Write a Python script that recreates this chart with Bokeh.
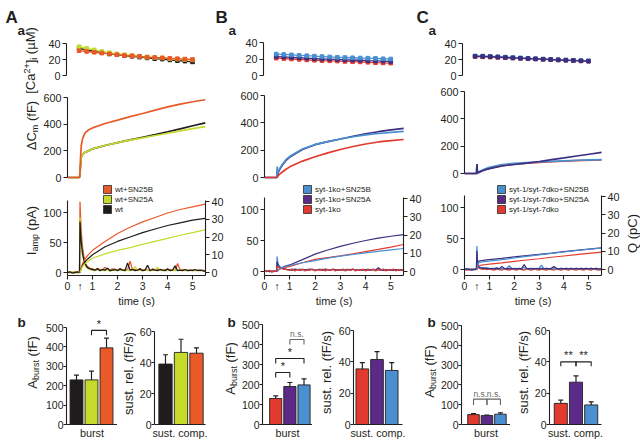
from math import pi
from bokeh.plotting import figure
from bokeh.layouts import row, column
from bokeh.models import (Range1d, LinearAxis, FixedTicker, Label, Legend, LegendItem)
from bokeh.embed import file_html
from bokeh.resources import INLINE

FONT = "Liberation Sans"
INK = "#231f20"

C_WT = "#1e1c1c"
C_A25A = "#c6da2c"
C_A25B = "#e85a28"
C_KO = "#e23a2e"
C_25A = "#5b2b87"
C_25A_LINE = "#3a2f80"
C_25B = "#4a8fcf"
C_NS = "#666666"

# ------------------------------------------------------------------ data
STIM_T = 0.5
TIME_TICKS = [0, 1, 2, 3, 4, 5]

T_CA = [0.5, 0.8, 1.1, 1.4, 1.7, 2.0, 2.3, 2.6, 2.9, 3.2, 3.5, 3.8, 4.1, 4.4, 4.7, 5.0]
CA_A_25B = [31, 30, 29, 28, 27, 26, 25, 24.5, 24, 23, 22.5, 22, 21.5, 21, 20.5, 20]
CA_A_25A = [36, 34, 32, 30, 28.5, 27, 26, 25, 24, 23, 22.5, 22, 21, 20.5, 20, 19.5]
CA_A_WT = [34, 32, 30, 28.5, 27, 26, 25, 24, 23, 22, 21, 20.5, 19.5, 18.5, 18, 17]
CA_B_25B = [26, 25.5, 25, 24.5, 24, 23.5, 23, 22.5, 22, 21.8, 21.5, 21.2, 21, 20.7, 20.3, 20]
CA_B_25A = [23, 22.5, 22, 21.5, 21, 20.5, 20, 19.8, 19.5, 19, 18.8, 18.5, 18, 17.8, 17.5, 17]
CA_B_KO = [21, 20.5, 20, 19.5, 19, 18.5, 18, 17.8, 17.5, 17, 16.8, 16.5, 16, 15.5, 15.2, 15]
CA_C_25B = [24.5, 24.3, 24, 23.5, 23, 22.5, 22, 21.5, 21, 20.5, 20, 19.7, 19.3, 19, 18.6, 18.3]
CA_C_25A = [24, 23.8, 23.5, 23, 22.5, 22, 21.6, 21.2, 20.8, 20.4, 20, 19.6, 19.2, 18.8, 18.4, 18]
CA_C_KO = [23.5, 23.3, 23, 22.6, 22.2, 21.8, 21.4, 21, 20.6, 20.2, 19.8, 19.4, 19, 18.6, 18.2, 17.8]
CA_ERR = [2, 2, 2, 1.8, 1.8, 1.6, 1.6, 1.5, 1.5, 1.5, 1.5, 1.5, 1.5, 1.5, 1.5, 1.5]

T_CM = [0, 0.48, 0.5, 0.52, 0.55, 0.6, 0.7, 0.85, 1.0, 1.5, 2.0, 2.5, 3.0, 3.5, 4.0, 4.5, 5.0, 5.5]
CM_A_25B = [0, 0, 40, 150, 240, 290, 335, 358, 372, 405, 430, 457, 480, 505, 530, 550, 568, 583]
CM_A_25A = [0, 0, 30, 90, 150, 172, 190, 200, 215, 240, 262, 280, 297, 315, 332, 350, 366, 382]
CM_A_WT = [0, 0, 30, 90, 150, 172, 190, 200, 215, 240, 262, 282, 302, 322, 343, 365, 388, 410]
CM_B_25A = [0, 0, 10, 25, 40, 60, 90, 125, 150, 205, 240, 262, 282, 302, 320, 335, 348, 360]
CM_B_25B = [0, 0, 80, 25, 45, 65, 95, 130, 155, 208, 242, 263, 282, 298, 312, 322, 330, 337]
CM_B_KO = [0, 0, 0, 8, 15, 25, 40, 60, 78, 120, 152, 180, 205, 227, 245, 260, 270, 278]
CM_C_25A = [0, 0, 70, 3, 6, 10, 18, 28, 36, 55, 66, 76, 88, 101, 114, 128, 141, 154]
CM_C_25B = [0, 0, 70, 4, 9, 14, 24, 36, 45, 66, 74, 79, 84, 89, 93, 97, 100, 102]
CM_C_KO = [0, 0, 0, 3, 7, 11, 20, 30, 38, 58, 68, 75, 81, 86, 90, 94, 97, 99]

T_I = [0.0, 0.1, 0.2, 0.3, 0.4, 0.48,
       0.5, 0.52, 0.55, 0.6, 0.65, 0.7, 0.75, 0.8, 0.9,
       1.0, 1.1, 1.2, 1.3, 1.4, 1.5, 1.6, 1.7, 1.8, 1.9,
       2.0, 2.1, 2.2, 2.3, 2.4, 2.5, 2.6, 2.7, 2.8, 2.9,
       3.0, 3.1, 3.2, 3.3, 3.4, 3.5, 3.6, 3.7, 3.8, 3.9,
       4.0, 4.1, 4.2, 4.3, 4.4, 4.5, 4.6, 4.7, 4.8, 4.9,
       5.0, 5.1, 5.2, 5.3, 5.4, 5.5]
IA_A_WT = [0, 1, -1, 0, 1, 0,
           85, 70, 50, 32, 22, 15, 11, 8, 6,
           5, 4, 6, 3, 5, 4, 7, 3, 4, 5,
           3, 6, 4, 3, 16, 4, 5, 3, 4, 6,
           3, 4, 12, 3, 5, 4, 3, 5, 4, 3,
           6, 3, 4, 11, 3, 4, 3, 5, 3, 4,
           3, 5, 3, 4, 3, 2]
IA_A_25A = [0, 0, 1, 0, -1, 0,
            92, 72, 50, 30, 20, 13, 9, 7, 5,
            4, 3, 5, 3, 4, 3, 5, 2, 4, 3,
            4, 3, 5, 3, 4, 3, 4, 10, 3, 4,
            3, 4, 3, 5, 3, 4, 9, 3, 4, 3,
            3, 4, 3, 4, 3, 5, 3, 4, 3, 3,
            4, 3, 4, 3, 3, 2]
IA_A_25B = [1, 0, 0, 1, 0, 0,
            118, 95, 68, 42, 28, 19, 13, 10, 7,
            6, 4, 7, 5, 4, 9, 5, 4, 6, 5,
            4, 6, 4, 5, 4, 19, 4, 5, 4, 6,
            4, 5, 4, 3, 6, 4, 5, 4, 3, 5,
            4, 5, 4, 3, 15, 4, 5, 3, 4, 3,
            5, 3, 4, 3, 4, 3]
IA_B_KO = [1, 0, 2, -1, 1, 0,
           9, 8, 7, 6, 5, 5, 4, 4, 3,
           2, 4, 1, 3, 2, 4, 1, 3, 2, 4,
           1, 3, 2, 4, 1, 3, 2, 4, 1, 3,
           2, 4, 1, 3, 2, 4, 1, 3, 2, 4,
           1, 3, 2, 4, 1, 3, 2, 4, 1, 3,
           2, 4, 1, 3, 2, 3]
IA_B_25A = [0, 1, 0, 0, 1, 0,
            16, 12, 9, 7, 6, 5, 4, 4, 3,
            3, 2, 4, 3, 2, 3, 3, 2, 4, 3,
            2, 3, 3, 2, 4, 3, 2, 3, 3, 2,
            3, 3, 2, 3, 3, 4, 2, 3, 2, 3,
            3, 2, 3, 3, 2, 6, 3, 2, 3, 2,
            3, 2, 3, 2, 3, 2]
IA_B_25B = [0, 1, 0, 1, 0, 1,
            24, 16, 11, 8, 6, 5, 4, 4, 3,
            3, 4, 2, 3, 4, 3, 2, 4, 3, 3,
            2, 3, 4, 2, 3, 3, 2, 4, 3, 2,
            3, 2, 3, 4, 2, 3, 3, 2, 3, 2,
            3, 4, 2, 3, 2, 3, 2, 3, 2, 3,
            2, 3, 2, 3, 2, 2]
IA_C_KO = [0, -1, 0, 1, 0, 0,
           12, 6, 3, 2, 1, 1, 0, 1, 0,
           1, 0, -1, 1, 0, -1, 1, 0, -1, 1,
           0, -1, 1, 0, -1, 1, 0, -1, 1, 0,
           -1, 1, 0, -1, 1, 0, -1, 1, 0, -1,
           1, 0, -1, 1, 0, -1, 1, 0, -1, 1,
           0, -1, 1, 0, -1, 0]
IA_C_25A = [0, 1, 0, -1, 0, 1,
            30, 10, 5, 3, 3, 2, 2, 2, 2,
            1, 2, 1, 2, 1, 5, 2, 1, 2, 1,
            2, 1, 2, 1, 8, 2, 1, 2, 1, 2,
            1, 2, 1, 2, 1, 2, 5, 2, 1, 2,
            1, 2, 1, 2, 1, 2, 1, 2, 1, 2,
            1, 2, 1, 2, 1, 1]
IA_C_25B = [0, 1, 0, 0, 1, 0,
            38, 12, 6, 4, 3, 3, 2, 2, 2,
            2, 1, 2, 3, 1, 2, 1, 2, 6, 2,
            1, 2, 1, 2, 3, 1, 2, 1, 2, 1,
            2, 7, 1, 2, 1, 2, 1, 2, 1, 2,
            1, 2, 1, 2, 1, 2, 1, 2, 1, 2,
            1, 2, 1, 2, 1, 1]

T_Q = [0.5, 0.55, 0.6, 0.7, 0.8, 1.0, 1.5, 2.0, 2.5, 3.0, 3.5, 4.0, 4.5, 5.0, 5.5]
Q_A_25B = [0, 3, 5, 7.5, 9.5, 12.5, 17.5, 22, 25.5, 28.5, 31, 33.5, 35.5, 37, 38.5]
Q_A_WT = [0, 2.5, 4, 6, 7.5, 10, 14.5, 17.5, 20, 22.5, 24.5, 26.5, 28, 29.5, 30.5]
Q_A_25A = [0, 2, 3.5, 5, 6.2, 8, 10.5, 12.5, 14, 15.8, 17.5, 19.2, 21, 22.5, 24]
Q_B_25A = [0, 1, 1.5, 2.2, 2.8, 3.6, 6.5, 9.5, 11.8, 13.8, 15.5, 17, 18.3, 19.3, 20.2]
Q_B_KO = [0, 0.8, 1.2, 1.8, 2.2, 2.8, 4.8, 6.6, 7.6, 8.6, 9.7, 10.9, 12.1, 13.4, 14.8]
Q_B_25B = [0, 1, 1.5, 2.2, 2.6, 3.3, 4.8, 6, 7.3, 8.4, 9.3, 10.2, 11, 11.8, 12.6]
Q_C_25B = [0, 3.5, 3.8, 4.1, 4.3, 4.6, 5.4, 6.3, 7.2, 8.0, 8.8, 9.6, 10.4, 11.1, 11.7]
Q_C_25A = [0, 4.5, 4.7, 4.9, 5.1, 5.4, 6.1, 6.9, 7.6, 8.3, 9.0, 9.8, 10.5, 11.2, 11.9]
Q_C_KO = [0, 2.0, 2.2, 2.4, 2.6, 2.9, 3.6, 4.4, 5.2, 5.9, 6.7, 7.4, 8.1, 8.8, 9.5]

BAR_X = [1, 2, 3]
BURST_A = [230, 230, 395]
BURST_A_ERR = [25, 45, 50]
SUST_A = [39, 46.5, 46]
SUST_A_ERR = [6, 8.5, 3.5]
BURST_B = [130, 190, 198]
BURST_B_ERR = [13, 20, 30]
SUST_B = [35.5, 41.5, 34.5]
SUST_B_ERR = [4, 5, 5]
BURST_C = [50, 45, 52]
BURST_C_ERR = [5, 3, 7]
SUST_C = [13.5, 27, 12.5]
SUST_C_ERR = [2, 4, 2]

# (bar i, bar j, bracket height, tick drop, text)
SIG_A_BURST = [(2, 3, 485, 25, "*")]
SIG_B_BURST = [(2, 3, 425, 25, "n.s."), (1, 3, 330, 25, "*"), (1, 2, 260, 25, "*")]
SIG_C_BURST = [(1, 2, 128, 30, "n.s."), (2, 3, 128, 30, "n.s.")]
SIG_C_SUST = [(1, 2, 40, 2.8, "**"), (2, 3, 40, 2.8, "**")]

LEG_A = [("wt+SN25B", C_A25B), ("wt+SN25A", C_A25A), ("wt", C_WT)]
LEG_B = [("syt-1ko+SN25B", C_25B), ("syt-1ko+SN25A", C_25A), ("syt-1ko", C_KO)]
LEG_C = [("syt-1/syt-7dko+SN25B", C_25B), ("syt-1/syt-7dko+SN25A", C_25A),
         ("syt-1/syt-7dko", C_KO)]


# ------------------------------------------------------------------ helpers
def inv(m, px):
    va, pa, vb, pb = m
    return va + (px - pa) * (vb - va) / (pb - pa)


def base_fig(cell, borders, xr, yr):
    cx0, cy0, cx1, cy1 = cell
    l, t, r, b = borders
    p = figure(width=cx1 - cx0, height=cy1 - cy0, min_border_left=l, min_border_right=r,
               min_border_top=t, min_border_bottom=b, x_range=xr, y_range=yr,
               x_axis_type=None, y_axis_type=None,
               output_backend="svg", toolbar_location=None)
    p.outline_line_color = None
    p.background_fill_color = "white"
    p.border_fill_color = "white"
    return p


def data_panel(cell, frame, xm, ym):
    cx0, cy0, cx1, cy1 = cell
    fx0, fy0, fx1, fy1 = frame
    xlim = (inv(xm, fx0), inv(xm, fx1))
    ylim = (inv(ym, fy1), inv(ym, fy0))
    p = base_fig(cell, (fx0 - cx0, fy0 - cy0, cx1 - fx1, cy1 - fy1),
                 Range1d(*xlim), Range1d(*ylim))
    return dict(p=p, xm=xm, ym=ym, frame=frame, xlim=xlim, ylim=ylim)


def text_panel(cell, borders=(0, 0, 0, 0)):
    cx0, cy0, cx1, cy1 = cell
    l, t, r, b = borders
    p = base_fig(cell, borders, Range1d(cx0 + l, cx1 - r), Range1d(cy1 - b, cy0 + t))
    return dict(p=p, xm=(0, 0, 1, 1), ym=(0, 0, 1, 1))


def axis(ticks, bounds=None, rname=None, size=10.8, tick_out=4, standoff=2):
    kw = dict(ticker=FixedTicker(ticks=ticks))
    if rname:
        kw["y_range_name"] = rname
    ax = LinearAxis(**kw)
    if bounds is not None:
        ax.bounds = bounds
    ax.axis_line_color = INK
    ax.axis_line_width = 1.1
    ax.major_tick_line_color = INK
    ax.major_tick_line_width = 1.1
    ax.major_tick_in = 0
    ax.major_tick_out = tick_out
    ax.minor_tick_line_color = None
    ax.major_label_text_font = FONT
    ax.major_label_text_font_size = f"{size}px"
    ax.major_label_text_color = INK
    ax.major_label_standoff = standoff
    return ax


EM = {" ": 0.278, "(": 0.333, ")": 0.333, "[": 0.278, "]": 0.278, ".": 0.278,
      "/": 0.278, "+": 0.584, "f": 0.278, "i": 0.222, "l": 0.222, "t": 0.278,
      "r": 0.333, "m": 0.833, "s": 0.5, "F": 0.611, "I": 0.278, "A": 0.667,
      "C": 0.722, "Q": 0.778, "M": 0.833, "\u00b5": 0.576, "\u0394": 0.668, "c": 0.5}


def tw(s, size):
    return sum(EM.get(c, 0.556) for c in s) * size


def vlabel(pn, cx, cy, pieces):
    total = sum(tw(t, s) for t, s, _ in pieces)
    y = cy + total / 2
    for t, s, sh in pieces:
        body = t.lstrip(" ")
        y -= tw(" ", s) * (len(t) - len(body))
        pn["p"].add_layout(Label(x=inv(pn["xm"], cx + sh), y=inv(pn["ym"], y), text=body,
                                 angle=pi / 2, text_align="left", text_baseline="middle",
                                 text_font=FONT, text_font_size=f"{s}px", text_color=INK))
        y -= tw(body, s)


def hlabel(pn, rx, ry, text, size, bold=False, align="left", baseline="alphabetic"):
    pn["p"].add_layout(Label(x=inv(pn["xm"], rx), y=inv(pn["ym"], ry), text=text,
                             text_align=align, text_baseline=baseline, text_font=FONT,
                             text_font_size=f"{size}px",
                             text_font_style="bold" if bold else "normal", text_color=INK))


YL = 13
YS = 9
VL_CA = [("[Ca", YL, 0), ("2+", YS, -3.8), ("]", YL, 0), ("i", YS, 3.6), (" (\u00b5M)", YL, 0)]
VL_CM = [("\u0394C", YL, 0), ("m", YS, 3.6), (" (fF)", YL, 0)]
VL_I = [("I", YL, 0), ("amp", YS, 3.6), (" (pA)", YL, 0)]
VL_AB = [("A", YL, 0), ("burst", YS, 3.6), (" (fF)", YL, 0)]
VL_SR = [("sust. rel. (fF/s)", YL, 0)]
VL_Q = [("Q (pC)", YL, 0)]

# ------------------------------------------------------------------ top part
COLS = [
    dict(tm=(0, 66, 5, 192), cam=(0, 75, 40, 43), cmm=(0, 177, 600, 97),
         im=(0, 272, 100, 212), qm=(0, 272, 40, 201), x0=40, x1=237, f0=66, f1=205,
         i_x1=237,
         ca=[(CA_A_WT, C_WT), (CA_A_25A, C_A25A), (CA_A_25B, C_A25B)],
         cm=[(CM_A_WT, C_WT), (CM_A_25A, C_A25A), (CM_A_25B, C_A25B)],
         ia=[(IA_A_25B, C_A25B), (IA_A_25A, C_A25A), (IA_A_WT, C_WT)],
         q=[(Q_A_25B, C_A25B), (Q_A_WT, C_WT), (Q_A_25A, C_A25A)],
         leg=LEG_A, leg_x=101, next_letters=[("B", 215, 17, 17), ("a", 228, 30, 13.5)]),
    dict(tm=(0, 263, 5.5, 403), cam=(0, 75, 40, 42), cmm=(0, 177, 600, 95),
         im=(0, 271, 100, 209), qm=(0, 271, 40, 198), x0=237, x1=437, f0=263, f1=403,
         i_x1=437,
         ca=[(CA_B_KO, C_KO), (CA_B_25A, C_25A_LINE), (CA_B_25B, C_25B)],
         cm=[(CM_B_25A, C_25A_LINE), (CM_B_25B, C_25B), (CM_B_KO, C_KO)],
         ia=[(IA_B_25B, C_25B), (IA_B_25A, C_25A_LINE), (IA_B_KO, C_KO)],
         q=[(Q_B_25A, C_25A_LINE), (Q_B_KO, C_KO), (Q_B_25B, C_25B)],
         leg=LEG_B, leg_x=301, next_letters=[("C", 416, 17, 17), ("a", 428, 30, 13.5)]),
    dict(tm=(0, 462, 5, 588), cam=(0, 75, 40, 43), cmm=(0, 173, 600, 91),
         im=(0, 269, 100, 207), qm=(0, 269, 40, 196), x0=437, x1=640, f0=462, f1=601,
         i_x1=624,
         ca=[(CA_C_KO, C_KO), (CA_C_25B, C_25B), (CA_C_25A, C_25A_LINE)],
         cm=[(CM_C_KO, C_KO), (CM_C_25B, C_25B), (CM_C_25A, C_25A_LINE)],
         ia=[(IA_C_KO, C_KO), (IA_C_25B, C_25B), (IA_C_25A, C_25A_LINE)],
         q=[(Q_C_KO, C_KO), (Q_C_25A, C_25A_LINE), (Q_C_25B, C_25B)],
         leg=LEG_C, leg_x=494, next_letters=[]),
]
Y_CA, Y_CM, Y_I, Y_END = 0, 84, 182, 312
I_BOT = 275          # bottom of the current frames
LEG_BOTTOM = 214     # bottom edge of the legends

# text strip left of column A
ta = text_panel((0, Y_CA, 40, Y_END))
hlabel(ta, 5, 17, "A", 17, bold=True)
hlabel(ta, 17, 30, "a", 13.5, bold=True)
vlabel(ta, 30, 60, VL_CA)
vlabel(ta, 31, 125, VL_CM)
vlabel(ta, 31, 230, VL_I)

ca_figs, cm_figs, i_figs = [], [], []
for c in COLS:
    # ---- [Ca2+]i
    pn = data_panel((c["x0"], Y_CA, c["x1"], Y_CM), (c["f0"], Y_CA, c["x1"], Y_CM), c["tm"], c["cam"])
    p = pn["p"]
    p.add_layout(axis([0, 20, 40], bounds=(0, 40)), "left")
    for vals, col in c["ca"]:
        p.segment(x0=T_CA, y0=[v - e for v, e in zip(vals, CA_ERR)], x1=T_CA,
                  y1=[v + e for v, e in zip(vals, CA_ERR)], line_color=col, line_width=1)
        p.line(T_CA, vals, line_color=col, line_width=1.3)
        p.scatter(T_CA, vals, marker="square", size=3.6, fill_color=col, line_color=col)
    for txt, lx, ly, fs in c["next_letters"]:
        hlabel(pn, lx, ly, txt, fs, bold=True)
    ca_figs.append(p)

    # ---- delta Cm
    pn = data_panel((c["x0"], Y_CM, c["x1"], Y_I), (c["f0"], Y_CM, c["x1"], Y_I), c["tm"], c["cmm"])
    p = pn["p"]
    p.add_layout(axis([0, 200, 400, 600], bounds=(0, 600)), "left")
    for vals, col in c["cm"]:
        p.line(T_CM, vals, line_color=col, line_width=1.7)
    cm_figs.append(p)

    # ---- Iamp and Q
    pn = data_panel((c["x0"], Y_I, c["i_x1"], Y_END), (c["f0"], Y_I, c["f1"], I_BOT), c["tm"], c["im"])
    p = pn["p"]
    qlo, qhi = inv(c["qm"], I_BOT), inv(c["qm"], Y_I)
    p.extra_y_ranges = {"q": Range1d(qlo, qhi)}
    p.add_layout(axis([0, 50, 100], bounds=(pn["ylim"][0], 120)), "left")
    p.add_layout(axis([0, 10, 20, 30, 40], bounds=(qlo, 40.6), rname="q"), "right")
    bx = axis([0, STIM_T] + TIME_TICKS[1:], size=10.5, tick_out=0, standoff=0)
    bx.ticker = FixedTicker(ticks=[0, STIM_T] + TIME_TICKS[1:], minor_ticks=TIME_TICKS)
    bx.minor_tick_line_color = INK
    bx.minor_tick_line_width = 1.1
    bx.minor_tick_out = 4
    bx.minor_tick_in = 0
    bx.major_label_overrides = {STIM_T: "\u2191"}
    bx.axis_label = "time (s)"
    bx.axis_label_text_font = FONT
    bx.axis_label_text_font_style = "normal"
    bx.axis_label_text_font_size = "11px"
    bx.axis_label_text_color = INK
    bx.axis_label_standoff = 0
    p.add_layout(bx, "below")
    for vals, col in c["ia"]:
        p.line(T_I, vals, line_color=col, line_width=1.3)
    for vals, col in c["q"]:
        p.line(T_Q, vals, line_color=col, line_width=1.2, y_range_name="q")
    items = []
    for lab, col in c["leg"]:
        # zero-size swatch outside the time range: only its legend square is seen
        r = p.quad(left=[-1], right=[-1], top=[0], bottom=[0], fill_color=col,
                   line_color="#2a2a2a", line_width=0.8)
        items.append(LegendItem(label=lab, renderers=[r]))
    p.add_layout(Legend(items=items, location=(c["leg_x"] - c["f0"], I_BOT - LEG_BOTTOM),
                        glyph_width=10, glyph_height=10, label_height=10, label_width=10,
                        spacing=0, padding=0, margin=0, label_standoff=3,
                        label_text_font=FONT, label_text_font_size="8px",
                        label_text_color=INK, border_line_alpha=0, background_fill_alpha=0))
    i_figs.append(p)
    if c["i_x1"] < c["x1"]:
        tq = text_panel((c["i_x1"], Y_I, c["x1"], Y_END), borders=(0, 0, 0, Y_END - I_BOT))
        vlabel(tq, 632, 233, VL_Q)
        i_figs.append(tq["p"])

top = row(ta["p"], column(row(*ca_figs), row(*cm_figs), row(*i_figs)))

# ------------------------------------------------------------------ bar panels
Y_B1 = 441
B_BOT = 424
BARS = [
    dict(cell=(40, 117), f0=66, f1=117, xm=(1, 76, 2, 91), ym=(0, 424, 500, 327),
         ticks=[0, 100, 200, 300, 400, 500], top=500, vals=BURST_A, err=BURST_A_ERR,
         cols=[C_WT, C_A25A, C_A25B], xlabel="burst", sig=SIG_A_BURST,
         text=((0, 40), VL_AB, 31.5, 362, (17, 322))),
    dict(cell=(136, 210), f0=154, f1=205, xm=(1, 165, 2, 180.5), ym=(0, 424, 60, 331),
         ticks=[0, 20, 40, 60], top=60, vals=SUST_A, err=SUST_A_ERR,
         cols=[C_WT, C_A25A, C_A25B], xlabel="sust. comp.", sig=[],
         text=((117, 136), VL_SR, 128, 373, None)),
    dict(cell=(238, 312), f0=259, f1=312, xm=(1, 273, 2, 288), ym=(0, 424, 500, 324),
         ticks=[0, 100, 200, 300, 400, 500], top=500, vals=BURST_B, err=BURST_B_ERR,
         cols=[C_KO, C_25A, C_25B], xlabel="burst", sig=SIG_B_BURST,
         text=((210, 238), VL_AB, 230, 368, (227, 322))),
    dict(cell=(335, 407), f0=352, f1=402, xm=(1, 361, 2, 376), ym=(0, 424, 60, 330),
         ticks=[0, 20, 40, 60], top=60, vals=SUST_B, err=SUST_B_ERR,
         cols=[C_KO, C_25A, C_25B], xlabel="sust. comp.", sig=[],
         text=((312, 335), VL_SR, 326, 372, None)),
    dict(cell=(437, 510), f0=459, f1=510, xm=(1, 471.5, 2, 485.5), ym=(0, 424, 500, 325),
         ticks=[0, 100, 200, 300, 400, 500], top=500, vals=BURST_C, err=BURST_C_ERR,
         cols=[C_KO, C_25A, C_25B], xlabel="burst", sig=SIG_C_BURST,
         text=((407, 437), VL_AB, 429, 371, (427, 322))),
    dict(cell=(531, 640), f0=548, f1=601, xm=(1, 559.5, 2, 575), ym=(0, 424, 60, 330),
         ticks=[0, 20, 40, 60], top=60, vals=SUST_C, err=SUST_C_ERR,
         cols=[C_KO, C_25A, C_25B], xlabel="sust. comp.", sig=SIG_C_SUST,
         text=((510, 531), VL_SR, 523, 372, None)),
]

bar_figs = []
for b in BARS:
    (tx0, tx1), pieces, cx, cy, letter = b["text"]
    tp = text_panel((tx0, Y_END, tx1, Y_B1), borders=(0, 0, 0, Y_B1 - B_BOT))
    vlabel(tp, cx, cy, pieces)
    if letter:
        hlabel(tp, letter[0], letter[1], "b", 13.5, bold=True)
    bar_figs.append(tp["p"])

    x0, x1 = b["cell"]
    pn = data_panel((x0, Y_END, x1, Y_B1), (b["f0"], Y_END, b["f1"], B_BOT), b["xm"], b["ym"])
    p = pn["p"]
    p.add_layout(axis(b["ticks"], bounds=(0, b["top"]), size=10.5, tick_out=3, standoff=0), "left")
    xa = LinearAxis(ticker=FixedTicker(ticks=[]), axis_label=b["xlabel"])
    xa.axis_line_color = INK
    xa.axis_line_width = 1.1
    xa.major_tick_out = 0
    xa.major_tick_in = 0
    xa.minor_tick_line_color = None
    xa.major_label_standoff = 0
    xa.axis_label_standoff = 2
    xa.axis_label_text_font = FONT
    xa.axis_label_text_font_style = "normal"
    xa.axis_label_text_font_size = "10.8px"
    xa.axis_label_text_color = INK
    p.add_layout(xa, "below")
    tops = [v + e for v, e in zip(b["vals"], b["err"])]
    p.segment(x0=BAR_X, y0=b["vals"], x1=BAR_X, y1=tops, line_color=INK, line_width=1.2)
    p.scatter(BAR_X, tops, marker="dash", size=5, line_color=INK, line_width=1.2)
    p.vbar(x=BAR_X, top=b["vals"], bottom=0, width=0.86, fill_color=b["cols"],
           line_color=INK, line_width=0.9)
    for i, j, h, d, txt in b["sig"]:
        col = C_NS if txt == "n.s." else INK
        p.line([i, i, j, j], [h - d, h, h, h - d], line_color=col, line_width=1.1)
        p.add_layout(Label(x=(i + j) / 2, y=h, y_offset=0.5, text=txt, text_align="center",
                           text_baseline="bottom", text_font=FONT,
                           text_font_size="8.5px" if txt == "n.s." else "11px",
                           text_color=col))
    bar_figs.append(p)

page = column(top, row(*bar_figs))
open("out.html", "w").write(file_html(page, INLINE))
